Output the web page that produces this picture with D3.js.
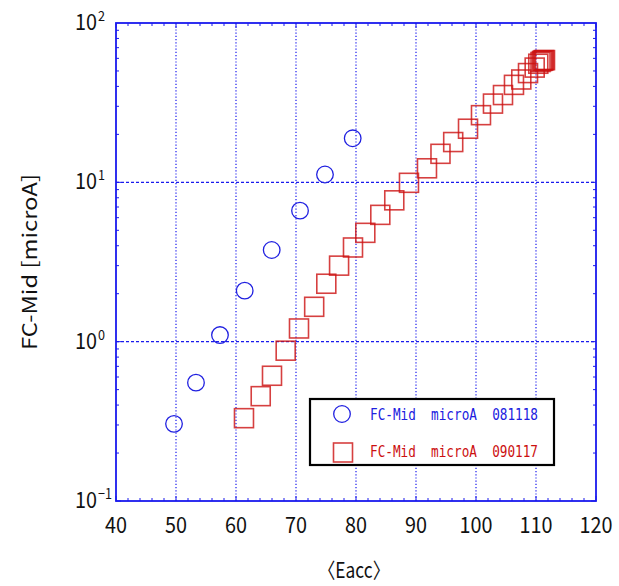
<!DOCTYPE html>
<html>
<head>
<meta charset="utf-8">
<script src="https://cdn.jsdelivr.net/npm/d3@7"></script>
<style>
  html, body { margin: 0; padding: 0; background: #fff; }
  svg { display: block; }
</style>
</head>
<body>
<svg id="chart" width="619" height="586"></svg>
<script>
// Run 081118 (circles)
const eacc081118 = [49.67, 53.33, 57.33, 61.45, 65.95, 70.67, 74.83, 79.45];
const fc081118   = [0.305, 0.553, 1.10, 2.09, 3.76, 6.64, 11.2, 18.9];

// Run 090117 (squares)
const eacc090117 = [61.33, 64.12, 66.0, 68.28, 70.5, 73.03, 75.05, 77.18, 79.5, 81.55,
                    84.05, 86.38, 88.83, 91.83, 94.08, 96.2, 98.67, 100.83, 102.83, 104.5,
                    106.33, 107.55, 108.67, 109.78, 110.38, 110.75, 111.0, 111.17, 111.33, 111.5];
const fc090117   = [0.331, 0.455, 0.611, 0.878, 1.21, 1.655, 2.31, 3.0, 3.90, 4.82,
                    6.25, 7.71, 9.93, 12.25, 15.1, 17.9, 21.7, 26.4, 31.2, 35.3,
                    40.9, 44.2, 48.5, 52.5, 55.5, 56.9, 57.7, 58.1, 58.5, 58.5];

const xTicks = [40, 50, 60, 70, 80, 90, 100, 110, 120];
const yExponents = [-1, 0, 1, 2];
const legendLabels = ["FC-Mid  microA  081118", "FC-Mid  microA  090117"];
const xTitle = "〈Eacc〉";
const yTitle = "FC-Mid [microA]";

const svg = d3.select("#chart");
const L = 116, R = 596, T = 23, B = 501;
const x = d3.scaleLinear().domain([40, 120]).range([L, R]);
const y = d3.scaleLog().domain([0.1, 100]).range([B, T]);

const gridBlue = "#1a1aee";
const font = "'Noto Sans CJK JP', 'DejaVu Sans', sans-serif";
const monoFont = "'DejaVu Sans Mono', 'Liberation Mono', monospace";

// vertical dotted grid
svg.append("g").selectAll("line")
  .data(xTicks.slice(1, -1))
  .join("line")
  .attr("x1", d => x(d)).attr("x2", d => x(d))
  .attr("y1", T).attr("y2", B)
  .attr("stroke", gridBlue).attr("stroke-width", 1.2)
  .attr("stroke-dasharray", "1.2,2");

// horizontal dashed grid
svg.append("g").selectAll("line")
  .data(yExponents.slice(1, -1))
  .join("line")
  .attr("x1", L).attr("x2", R)
  .attr("y1", d => y(Math.pow(10, d))).attr("y2", d => y(Math.pow(10, d)))
  .attr("stroke", gridBlue).attr("stroke-width", 1.2)
  .attr("stroke-dasharray", "3,2");

// ticks: x axis bottom and top, inward
const xMinor = d3.range(40, 121, 2);
const tickG = svg.append("g").attr("stroke", gridBlue).attr("stroke-width", 1);
xMinor.forEach(v => {
  const len = (v % 10 === 0) ? 5 : 3;
  tickG.append("line").attr("x1", x(v)).attr("x2", x(v)).attr("y1", B).attr("y2", B - len);
  tickG.append("line").attr("x1", x(v)).attr("x2", x(v)).attr("y1", T).attr("y2", T + len);
});
// log minor ticks on left and right
for (let e = -1; e < 2; e++) {
  for (let m = 1; m <= 9; m++) {
    const v = m * Math.pow(10, e);
    const len = m === 1 ? 5 : 3;
    tickG.append("line").attr("x1", L).attr("x2", L + len).attr("y1", y(v)).attr("y2", y(v));
    tickG.append("line").attr("x1", R).attr("x2", R - len).attr("y1", y(v)).attr("y2", y(v));
  }
}

// frame
svg.append("rect")
  .attr("x", L).attr("y", T).attr("width", R - L).attr("height", B - T)
  .attr("fill", "none").attr("stroke", gridBlue).attr("stroke-width", 1.8);

// x tick labels
svg.append("g").selectAll("text")
  .data(xTicks)
  .join("text")
  .attr("x", d => x(d)).attr("y", 533)
  .attr("text-anchor", "middle")
  .attr("font-family", font).attr("font-size", 22)
  .attr("textLength", d => String(d).length * 11)
  .attr("lengthAdjust", "spacingAndGlyphs")
  .attr("fill", "#111")
  .text(d => d);

// y tick labels 10^n
const yl = svg.append("g");
yExponents.forEach(e => {
  const yy = y(Math.pow(10, e));
  yl.append("text")
    .attr("x", 97).attr("y", yy + 7)
    .attr("text-anchor", "end")
    .attr("font-family", font).attr("font-size", 22)
    .attr("textLength", 22).attr("lengthAdjust", "spacingAndGlyphs")
    .attr("fill", "#111").text("10");
  const s = String(e).replace("-", "−");
  yl.append("text")
    .attr("x", 98).attr("y", yy - 2)
    .attr("font-family", font).attr("font-size", 14)
    .attr("textLength", s.length * 7).attr("lengthAdjust", "spacingAndGlyphs")
    .attr("fill", "#111").text(s);
});

// axis titles
svg.append("text")
  .attr("x", (L + R) / 2 - 2).attr("y", 578)
  .attr("text-anchor", "middle")
  .attr("font-family", font).attr("font-size", 21)
  .attr("textLength", 72).attr("lengthAdjust", "spacingAndGlyphs")
  .attr("fill", "#111").text(xTitle);

svg.append("text")
  .attr("transform", "translate(37,262) rotate(-90)")
  .attr("text-anchor", "middle")
  .attr("font-family", font).attr("font-size", 20)
  .attr("textLength", 176).attr("lengthAdjust", "spacingAndGlyphs")
  .attr("fill", "#111").text(yTitle);

// data marks
const circleColor = "#2020e0";
const squareColor = "#cc1010";
const side = 19;

svg.append("g").selectAll("circle")
  .data(eacc081118.map((v, i) => [v, fc081118[i]]))
  .join("circle")
  .attr("cx", d => x(d[0])).attr("cy", d => y(d[1]))
  .attr("r", 8.3)
  .attr("fill", "none").attr("stroke", circleColor).attr("stroke-width", 1.3);

svg.append("g").selectAll("rect")
  .data(eacc090117.map((v, i) => [v, fc090117[i]]))
  .join("rect")
  .attr("x", d => x(d[0]) - side / 2).attr("y", d => y(d[1]) - side / 2)
  .attr("width", side).attr("height", side)
  .attr("fill", "none").attr("stroke", squareColor)
  .attr("stroke-width", 1.6).attr("stroke-opacity", 0.8);

// legend
const lg = svg.append("g");
lg.append("rect")
  .attr("x", 310).attr("y", 399).attr("width", 244).attr("height", 66)
  .attr("fill", "#fff").attr("stroke", "#000").attr("stroke-width", 2.2);
lg.append("circle")
  .attr("cx", 342).attr("cy", 414).attr("r", 8.3)
  .attr("fill", "none").attr("stroke", circleColor).attr("stroke-width", 1.3);
lg.append("rect")
  .attr("x", 343 - side / 2).attr("y", 452.5 - side / 2).attr("width", side).attr("height", side)
  .attr("fill", "none").attr("stroke", squareColor).attr("stroke-width", 1.6).attr("stroke-opacity", 0.8);
[0, 1].forEach(i => {
  lg.append("text")
    .attr("x", 370).attr("y", i === 0 ? 420 : 457)
    .attr("font-family", monoFont).attr("font-size", 15)
    .attr("textLength", 168).attr("lengthAdjust", "spacingAndGlyphs")
    .attr("fill", i === 0 ? circleColor : squareColor)
    .style("white-space", "pre")
    .text(legendLabels[i]);
});
</script>
</body>
</html>
